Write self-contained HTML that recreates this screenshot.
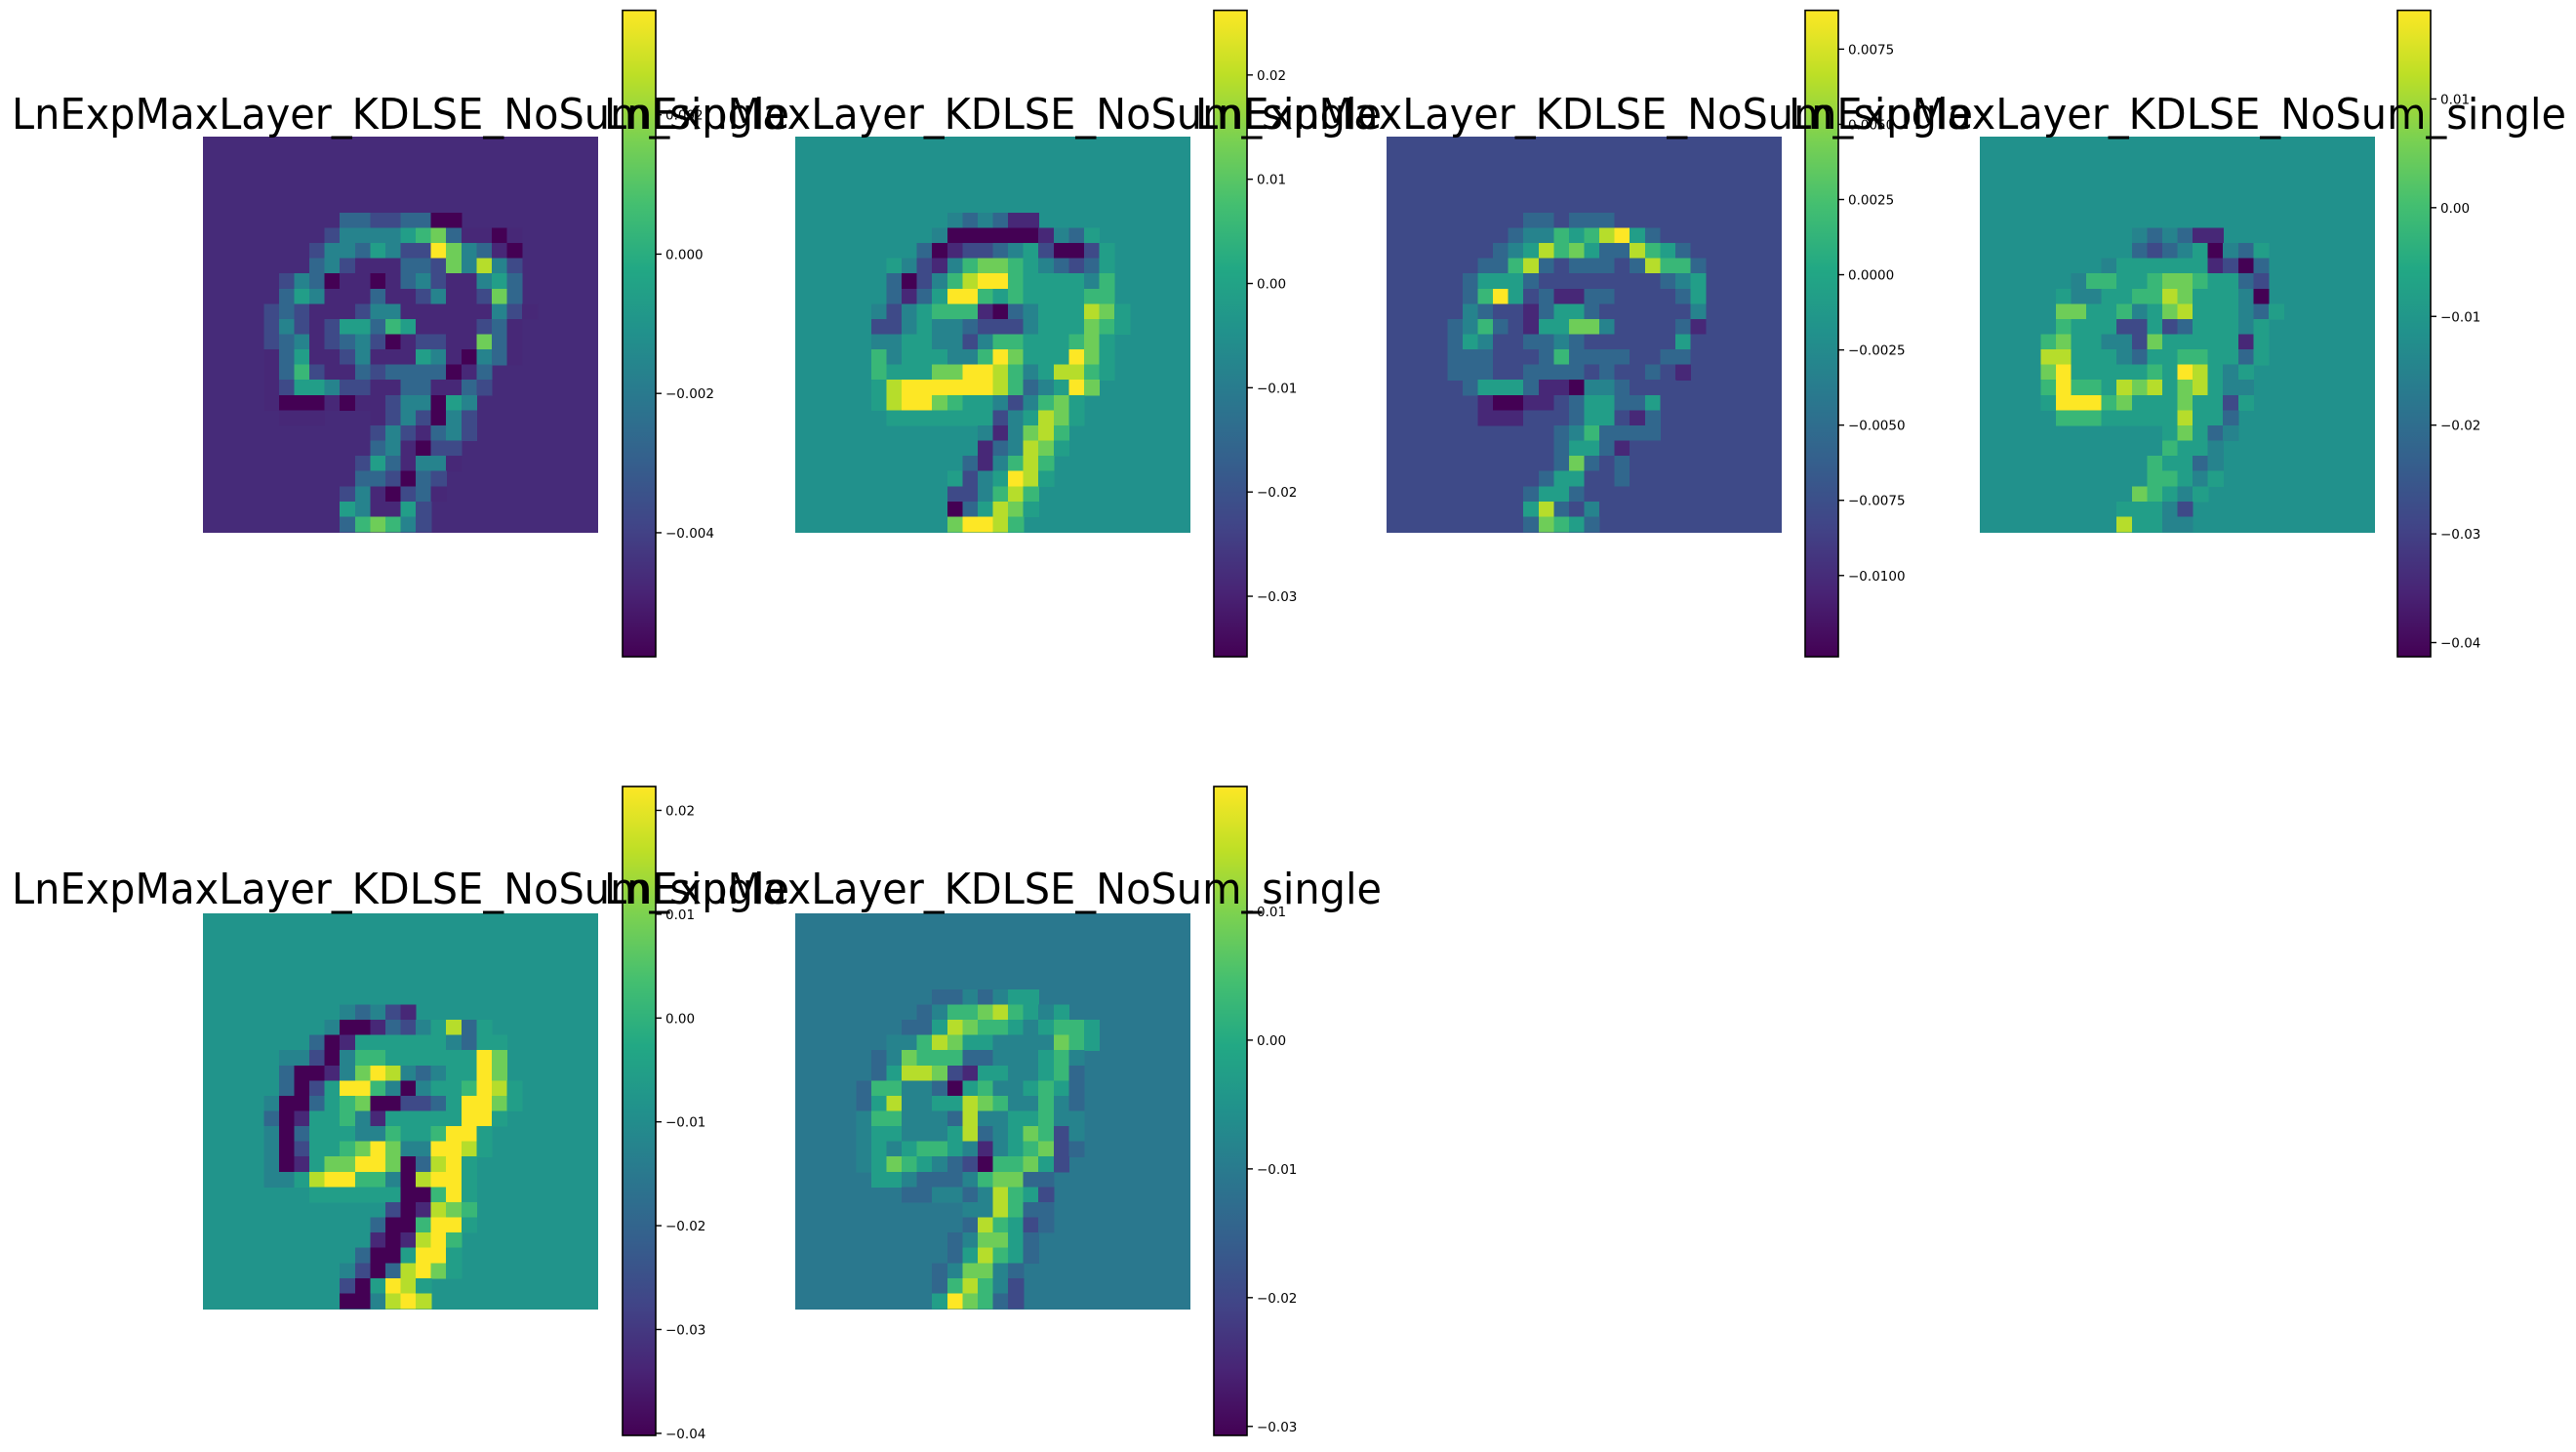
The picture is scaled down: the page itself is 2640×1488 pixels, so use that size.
<!DOCTYPE html>
<html><head><meta charset="utf-8">
<style>
html,body{margin:0;padding:0;background:#fff;}
svg{display:block;}
text{font-family:"DejaVu Sans","Liberation Sans",sans-serif;}
</style></head>
<body>
<svg id="fig" xmlns="http://www.w3.org/2000/svg" width="2640" height="1488" viewBox="0 0 2640 1488">
<defs>
<linearGradient id="vir" x1="0" y1="1" x2="0" y2="0">
<stop offset="0" stop-color="#440154"/><stop offset="0.1" stop-color="#482475"/><stop offset="0.2" stop-color="#414487"/><stop offset="0.3" stop-color="#355f8d"/><stop offset="0.4" stop-color="#2a788e"/><stop offset="0.5" stop-color="#21918c"/><stop offset="0.6" stop-color="#22a884"/><stop offset="0.7" stop-color="#44bf70"/><stop offset="0.8" stop-color="#7ad151"/><stop offset="0.9" stop-color="#bddf26"/><stop offset="1" stop-color="#fde725"/>
</linearGradient>
</defs>
</svg>
<script>
// ---- data ----
const titles = ["LnExpMaxLayer_KDLSE_NoSum_single","LnExpMaxLayer_KDLSE_NoSum_single","LnExpMaxLayer_KDLSE_NoSum_single","LnExpMaxLayer_KDLSE_NoSum_single","LnExpMaxLayer_KDLSE_NoSum_single","LnExpMaxLayer_KDLSE_NoSum_single"];
const vmins = [-0.00578,-0.0358,-0.0127,-0.0413,-0.0402,-0.0307];
const vmaxs = [0.0035,0.0262,0.00879,0.01815,0.0223,0.0197];
const bgLevels = [1.1,4.5,2.0,4.5,4.6,3.6];
const tickValues1 = [0.002,0,-0.002,-0.004];
const tickLabels1 = ["0.002","0.000","\u22120.002","\u22120.004"];
const tickValues2 = [0.02,0.01,0,-0.01,-0.02,-0.03];
const tickLabels2 = ["0.02","0.01","0.00","\u22120.01","\u22120.02","\u22120.03"];
const tickValues3 = [0.0075,0.005,0.0025,0,-0.0025,-0.005,-0.0075,-0.01];
const tickLabels3 = ["0.0075","0.0050","0.0025","0.0000","\u22120.0025","\u22120.0050","\u22120.0075","\u22120.0100"];
const tickValues4 = [0.01,0,-0.01,-0.02,-0.03,-0.04];
const tickLabels4 = ["0.01","0.00","\u22120.01","\u22120.02","\u22120.03","\u22120.04"];
const tickValues5 = [0.02,0.01,0,-0.01,-0.02,-0.03,-0.04];
const tickLabels5 = ["0.02","0.01","0.00","\u22120.01","\u22120.02","\u22120.03","\u22120.04"];
const tickValues6 = [0.01,0,-0.01,-0.02,-0.03];
const tickLabels6 = ["0.01","0.00","\u22120.01","\u22120.02","\u22120.03"];
// grid rows: "startCol:levels(0-9)" ; "" = background row
const grid1 = ["","","","","","9:33223300","8:2444456731101","7:24435422974310","7:34211133274842","5:2430110134211453","5:3541113112411273","4:232111244111111421","4:24212553651111231","4:23412342012211731","4:13511241115410431","4:136211323333013","4:125542211331132","4:10001011244054","5:111...1242042","11:2421342","11:341022","10:2531441","10:332032","9:2410231","9:541152","9:367642"];
const grid2 = ["","","","","","10:434311","9:40000001435","8:3012234520025","6:542146776543235","6:302468996555546","6:313599656555566","5:42456661034555875","5:22454432224555765","5:4455442466555675","5:6455544697555975","5:6555779986458865","5:589999998634597","5:58997655424675","6:5555555245875","12:414786","12:134875","11:314686","10:5245985","10:224686","10:035875","10:79986"];
const grid3 = ["","","","","","9:33233322","8:344656895322","7:34586753386532","6:336832333238663","5:3555322222222345","5:3695231133222235","4:24322135532222224","4:34632155774222231","4:35422334322222252","4:33322236333322332","4:3332233332322321","5:35553110443222","6:1001123553352","6:111222355213","11:3463333","11:3553122","10:2373232","10:3552232","9:3553222","9:583242","9:37653"];
const grid4 = ["","","","","","","10:434311","10:323450435","8:45555551203","6:4665567765532","5:54455668755540","5:775564578555435","5:65552252355545","4:675544275555515","4:885554355665535","4:79555556598545","4:69665878578544","4:59996755575525","5:666555558553","12:57534","12:6554","11:65534","11:66545","10:76545","9:55542","9:85544"];
const grid5 = ["","","","","","","9:43421","8:40013245835","7:3015555554355","5:442046655555597","5:300147984345597","5:3025996404556985","4:40035670022359975","4:3015564155555995","4:403555446556995","4:402556797449985","4:40157799703895","4:44589966408995","7:55555500695","12:201876","11:3006995","11:101896","10:3005995","9:42038975","9:205985","9:004898"];
const grid6 = ["","","","","","9:3343455","8:3466786545","7:3358766545665","6:44687554444765","5:34766633444564","5:35887215544563","4:366443056445653","4:358445587644643","4:466444384455644","4:455444583457624","4:454566541456723","4:45765432066752","5:554333467733","7:3344348652","11:448633","11:386523","10:347753","10:358653","9:347743","9:368642","9:597632"];

const grids=[grid1,grid2,grid3,grid4,grid5,grid6];
const tickVals=[tickValues1,tickValues2,tickValues3,tickValues4,tickValues5,tickValues6];
const tickLabs=[tickLabels1,tickLabels2,tickLabels3,tickLabels4,tickLabels5,tickLabels6];

// ---- layout ----
const NS="http://www.w3.org/2000/svg";
const svg=document.getElementById('fig');
const imgX=[208,815,1421,2029,208,815];
const rowTop=[140,936];
const cbX=[638,1244,1850,2457,638,1244];
const cbTop=[10.6,806], cbBot=[673,1471];
const IMG=405, N=26, CBW=34;
const stops=[[68,1,84],[72,36,117],[65,68,135],[53,95,141],[42,120,142],[33,145,140],[34,168,132],[68,191,112],[122,209,81],[189,223,38],[253,231,37]];
function viridis(t){t=Math.max(0,Math.min(1,t));const p=t*10,i=Math.min(9,Math.floor(p)),f=p-i;const a=stops[i],b=stops[i+1];return `rgb(${Math.round(a[0]+(b[0]-a[0])*f)},${Math.round(a[1]+(b[1]-a[1])*f)},${Math.round(a[2]+(b[2]-a[2])*f)})`;}
function mk(tag,attrs,parent){const e=document.createElementNS(NS,tag);for(const k in attrs)e.setAttribute(k,attrs[k]);(parent||svg).appendChild(e);return e;}

for(let p=0;p<6;p++){
  const row=p<4?0:1;
  const x0=imgX[p], y0=rowTop[row], cs=IMG/N;
  const vmin=vmins[p], vmax=vmaxs[p];
  const toVal=l=>vmin+(l/9)*(vmax-vmin);
  const norm=v=>(v-vmin)/(vmax-vmin);
  const g=mk('g',{});
  
  
  const bgV=toVal(bgLevels[p]);
  const bg=mk('rect',{x:x0,y:y0,width:IMG,height:IMG+1,fill:viridis(norm(bgV))},g);
  
  
  grids[p].forEach((s,r)=>{
    if(!s)return;
    const [c0,lv]=s.split(':');
    for(let k=0;k<lv.length;k++){
      const ch=lv[k]; if(ch==='.')continue;
      const v=toVal(+ch); const c=+c0+k;
      const cell=mk('rect',{x:(x0+c*cs).toFixed(2),y:(y0+r*cs).toFixed(2),width:(cs+0.6).toFixed(2),height:(cs+0.6).toFixed(2),fill:viridis(norm(v)),'shape-rendering':'crispEdges'},g);
      
      
    }
  });
  // colorbar
  const cx=cbX[p], ct=cbTop[row], cb=cbBot[row];
  const cbar=mk('rect',{x:cx,y:ct,width:CBW,height:cb-ct,fill:'url(#vir)',stroke:'#000','stroke-width':1.6});
  
  
  const yOf=v=>cb-(v-vmin)/(vmax-vmin)*(cb-ct);
  tickVals[p].forEach((v,i)=>{
    const y=yOf(v);
    const t=mk('line',{x1:cx+CBW,x2:cx+CBW+6,y1:y,y2:y,stroke:'#000','stroke-width':1.4});
    
    
    const lb=mk('text',{x:cx+CBW+10,y:y+5,'font-size':13.5,fill:'#000'});
    lb.textContent=tickLabs[p][i];
    
    
  });
}
// titles drawn after (overlap like matplotlib order)
for(let p=0;p<6;p++){
  const row=p<4?0:1;
  const tx=imgX[p]+IMG/2, ty=row?926:132;
  const t=mk('text',{x:tx,y:ty,'font-size':44,'text-anchor':'middle',textLength:797,lengthAdjust:'spacingAndGlyphs',fill:'#000'});
  t.textContent=titles[p];
  
  
}
</script>
</body></html>
